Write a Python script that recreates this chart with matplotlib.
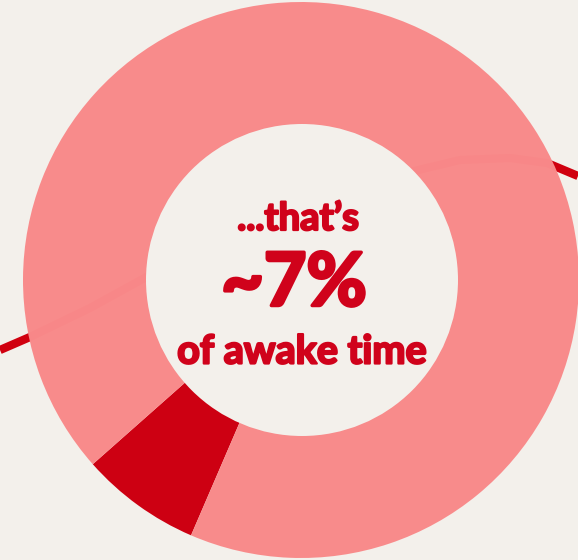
import matplotlib.pyplot as plt
from matplotlib.patches import Circle
import matplotlib.patheffects as pe

# share of awake time (percent)
labels = ['this activity', 'rest of awake time']
shares = [7, 93]
colors = ['#cd0012', '#f98a8a']

# red trend line running behind the ring (pixel coords, y up)
line_x = [0, 30, 90, 150, 220, 300, 360, 410, 460, 510, 547, 578]
line_y = [210, 223, 252, 285, 318, 350, 372, 388, 400, 402, 397, 384]

text_top = '...that\u2019s'
text_big = '~7%'
text_bottom = 'of awake time'

bg = '#f3f0eb'
red = '#d0021b'

fig = plt.figure(figsize=(5.78, 5.60), dpi=100, facecolor=bg)
ax = fig.add_axes([0, 0, 1, 1])
ax.set_facecolor(bg)

ax.plot(line_x, line_y, color='#d0000f', lw=6, solid_capstyle='butt', zorder=1)

wedges, _ = ax.pie(shares, colors=colors, startangle=221.5, counterclock=True,
                   center=(301, 280), radius=278,
                   wedgeprops=dict(linewidth=0, alpha=0.99))
for w in wedges:
    w.set_zorder(2)
wedges[0].set_alpha(1)

# hole of the donut
ax.add_patch(Circle((302, 280), 156, facecolor=bg, edgecolor='none', zorder=3))

# heavier look than plain bold
thick = [pe.withStroke(linewidth=1.6, foreground=red)]
ax.text(298, 341, text_top, ha='center', va='center', fontsize=27.5,
        fontweight='bold', family='Lato', color=red, zorder=4, path_effects=thick)
ax.text(294, 276, text_big, ha='center', va='center', fontsize=53,
        fontweight='bold', family='Lato', color=red, zorder=4,
        path_effects=[pe.withStroke(linewidth=2.5, foreground=red)])
ax.text(302, 208, text_bottom, ha='center', va='center', fontsize=28.5,
        fontweight='bold', family='Lato', color=red, zorder=4, path_effects=thick)

ax.set_xlim(0, 578)
ax.set_ylim(0, 560)
ax.set_aspect('auto')
ax.axis('off')

fig.savefig('out.png', dpi=100, facecolor=bg)
